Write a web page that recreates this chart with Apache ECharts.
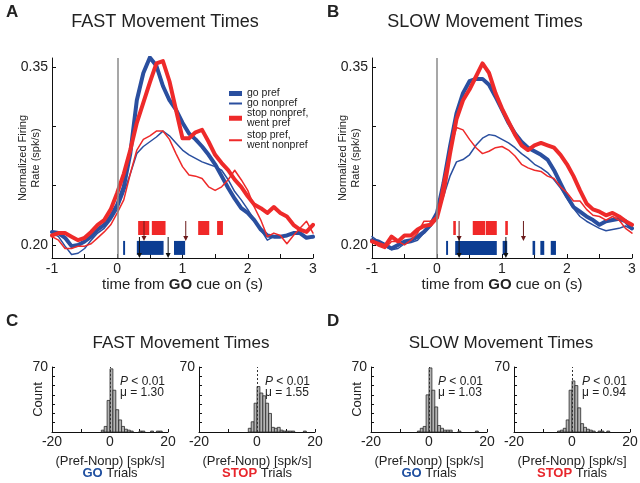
<!DOCTYPE html>
<html><head><meta charset="utf-8">
<script src="https://cdn.jsdelivr.net/npm/echarts@6/dist/echarts.min.js"></script>
<style>html,body{margin:0;padding:0;background:#fff}#c{width:640px;height:483px}</style>
</head><body><div id="c"></div>
<script>
// ---------- DATA ----------
const timeGrid = [-1,-0.9,-0.8,-0.7,-0.6,-0.5,-0.4,-0.3,-0.2,-0.1,0,0.1,0.2,0.3,0.4,0.5,0.6,0.7,0.8,0.9,1,1.1,1.2,1.3,1.4,1.5,1.6,1.7,1.8,1.9,2,2.1,2.2,2.3,2.4,2.5,2.6,2.7,2.8,2.9,3];

const fastGoPref = [0.211,0.210,0.206,0.199,0.200,0.203,0.207,0.213,0.217,0.224, 0.234,0.249,0.277,0.322,0.345,0.358,0.351,0.334,0.322,0.314, 0.303,0.294,0.289,0.283,0.276,0.268,0.258,0.248,0.239,0.231, 0.227,0.221,0.213,0.208,0.207,0.207,0.208,0.210,0.210,0.206, 0.207];
const fastGoNonpref = [0.210,0.207,0.199,0.192,0.193,0.197,0.204,0.210,0.214,0.221, 0.230,0.244,0.260,0.277,0.283,0.287,0.291,0.296,0.292,0.286, 0.280,0.276,0.273,0.270,0.268,0.266,0.263,0.255,0.245,0.238, 0.230,0.221,0.213,0.204,0.207,0.207,0.208,0.210,0.210,0.207, 0.206];
const fastStopNonpref = [0.208,0.210,0.210,0.207,0.204,0.206,0.211,0.217,0.221,0.230, 0.244,0.260,0.280,0.303,0.320,0.337,0.353,0.355,0.338,0.314, 0.290,0.290,0.295,0.297,0.287,0.276,0.269,0.263,0.255,0.249, 0.241,0.234,0.231,0.227,0.232,0.227,0.224,0.217,0.213,0.211, 0.217];
const fastStopPref = [0.207,0.204,0.197,0.197,0.199,0.199,0.201,0.206,0.211,0.217, 0.227,0.238,0.260,0.280,0.289,0.292,0.296,0.296,0.289,0.277, 0.266,0.259,0.258,0.256,0.249,0.246,0.249,0.255,0.263,0.255, 0.246,0.232,0.221,0.207,0.210,0.208,0.201,0.208,0.214,0.220, 0.210];

const slowGoPref = [0.204,0.203,0.200,0.197,0.200,0.203,0.204,0.207,0.211,0.217, 0.227,0.252,0.283,0.311,0.328,0.338,0.340,0.340,0.335,0.325, 0.314,0.303,0.294,0.287,0.282,0.279,0.276,0.272,0.263,0.252, 0.241,0.232,0.228,0.224,0.221,0.217,0.220,0.221,0.222,0.220, 0.214];
const slowGoNonpref = [0.207,0.203,0.199,0.196,0.197,0.201,0.202,0.204,0.210,0.216, 0.225,0.241,0.258,0.270,0.272,0.276,0.284,0.290,0.293,0.292, 0.289,0.286,0.282,0.277,0.273,0.268,0.265,0.261,0.255,0.248, 0.239,0.231,0.224,0.220,0.217,0.214,0.212,0.213,0.214,0.216, 0.213];
const slowStopNonpref = [0.203,0.201,0.199,0.207,0.203,0.208,0.208,0.213,0.216,0.217, 0.223,0.244,0.277,0.306,0.322,0.331,0.342,0.353,0.345,0.328, 0.315,0.304,0.293,0.284,0.280,0.284,0.286,0.284,0.282,0.276, 0.268,0.258,0.246,0.235,0.230,0.228,0.225,0.227,0.224,0.220, 0.217];
const slowStopPref = [0.203,0.199,0.197,0.203,0.203,0.200,0.204,0.210,0.220,0.220, 0.224,0.255,0.280,0.299,0.297,0.289,0.282,0.277,0.279,0.282, 0.283,0.280,0.275,0.268,0.265,0.263,0.262,0.258,0.256,0.249, 0.244,0.237,0.237,0.230,0.225,0.224,0.221,0.224,0.221,0.214, 0.210];

// significance intervals [start, end] (s)
const fastStopSig = [[0.32,0.49],[0.53,0.74],[1.24,1.41],[1.53,1.62]];
const fastGoSig = [[0.09,0.12],[0.30,0.71],[0.87,1.04]];
const fastStopArrows = [0.41, 1.05];
const fastGoArrows = [0.34, 0.78];
const slowStopSig = [[0.25,0.29],[0.55,0.74],[0.75,0.92],[1.05,1.09]];
const slowGoSig = [[0.14,0.17],[0.28,0.92],[1.01,1.08],[1.47,1.51],[1.59,1.65],[1.75,1.83]];
const slowStopArrows = [0.34, 1.33];
const slowGoArrows = [0.34, 1.06];

const yTicks = [0.20,0.25,0.30,0.35];
const yLabels = [0.20,0.35];

// histograms
const binCenters = [-4.5,-3.5,-2.5,-1.5,-0.5,0.5,1.5,2.5,3.5,4.5,5.5,6.5,7.5,8.5,9.5,10.5,11.5,12.5,13.5,14.5,15.5,16.5,17.5,18.5];
const fastGoCounts   = [0,0,2,6,34,68,45,24,13,6,3,2,1,0,0,1,1,0,0,1,0,1,1,0];
const fastStopCounts = [0,0,4,11,31,49,42,39,31,20,5,4,5,2,1,1,1,1,0,0,0,1,0,0];
const slowGoCounts   = [0,1,4,6,40,69,45,27,7,4,2,2,2,0,0,1,0,0,0,0,0,1,0,0];
const slowStopCounts = [1,2,4,13,45,55,50,26,9,5,3,2,1,0,1,1,0,1,0,0,0,0,0,0];
const histMeans = ['1.30','1.55','1.03','0.94'];
const histP = '0.01';

// ---------- STYLE ----------
const FONT = '"Liberation Sans", Arial, sans-serif';
const TXT = '#222';
const BLUE = '#2a4f9f';
const RED = '#ee2a2a';
const SIG_BLUE = '#0c3d92';
const SIG_RED = '#f02828';
const NAMES = ['go pref','go nonpref','stop nonpref,\nwent pref','stop pref,\nwent nonpref'];

const chart = echarts.init(document.getElementById('c'), null, {width:640, height:483});

const gridBase = {outerBoundsMode:'none', containLabel:false};
const grids = [
  {left:52, top:58, width:261, height:200},
  {left:372, top:58, width:260, height:200},
  {left:52, top:367, width:116, height:65},
  {left:199, top:367, width:116, height:65},
  {left:371, top:367, width:116, height:65},
  {left:514, top:367, width:116, height:65}
].map(g=>Object.assign({}, gridBase, g));

const axisLine = {show:true, onZero:false, lineStyle:{color:'#111', width:1}};
function mainX(i){
  return {gridIndex:i, type:'value', min:-1, max:3, interval:0.5,
    axisLine, axisTick:{show:true, inside:true, length:4, lineStyle:{color:'#111'}},
    axisLabel:{formatter:v=>Number.isInteger(v)?String(v):'', fontSize:14, color:TXT, fontFamily:FONT, margin:4},
    splitLine:{show:false},
    name:'{a|time from }{b|GO}{a| cue on (s)}', nameLocation:'middle', nameGap:19, nameMoveOverlap:false,
    nameTextStyle:{rich:{a:{fontSize:15, color:TXT, fontFamily:FONT}, b:{fontSize:15, fontWeight:'bold', color:TXT, fontFamily:FONT}}}
  };
}
function mainY(i){
  return {gridIndex:i, type:'value', min:0.189, max:0.3576,
    axisLine, axisTick:{show:true, inside:true, length:4, customValues:yTicks, lineStyle:{color:'#111'}},
    axisLabel:{customValues:yLabels, formatter:v=>v.toFixed(2), fontSize:14, color:TXT, fontFamily:FONT, margin:4},
    splitLine:{show:false},
    name:'Normalized Firing\nRate (spk/s)', nameLocation:'middle', nameGap:10, nameRotate:90, nameMoveOverlap:false,
    nameTextStyle:{fontSize:11, color:TXT, fontFamily:FONT, lineHeight:13}
  };
}
function histX(i, label, col){
  return {gridIndex:i, type:'value', min:-20, max:20, interval:10,
    axisLine, axisTick:{show:true, inside:true, length:3, lineStyle:{color:'#111'}},
    axisLabel:{formatter:v=>(v%20===0)?String(v):'', fontSize:14, color:TXT, fontFamily:FONT, margin:3},
    splitLine:{show:false},
    name:'{a|(Pref-Nonp) [spk/s]}\n{g|'+label+'}{a| Trials}', nameLocation:'middle', nameGap:23, nameMoveOverlap:false,
    nameTextStyle:{rich:{a:{fontSize:13, color:TXT, fontFamily:FONT, lineHeight:12}, g:{fontSize:13, fontWeight:'bold', color:col, fontFamily:FONT, lineHeight:12}}}
  };
}
function histY(i, showName){
  return {gridIndex:i, type:'value', min:0, max:70, interval:10,
    axisLine, axisTick:{show:true, inside:true, length:3, lineStyle:{color:'#111'}},
    axisLabel:{formatter:v=>v===70?'70':'', fontSize:14, color:TXT, fontFamily:FONT, margin:4},
    splitLine:{show:false},
    name: showName?'Count':'', nameLocation:'middle', nameGap:7, nameRotate:90, nameMoveOverlap:false,
    nameTextStyle:{fontSize:13, color:TXT, fontFamily:FONT}
  };
}

function lineSeries(name, arr, axis, color, width, extra){
  return Object.assign({type:'line', name, xAxisIndex:axis, yAxisIndex:axis, showSymbol:false, symbol:'none',
    data: timeGrid.map((t,k)=>[t, arr[k]]), lineStyle:{color, width, join:'round', cap:'round'}, itemStyle:{color},
    silent:true, animation:false, z:3}, extra||{});
}
// rows of significance bars, in value space
const RED_ROW = [0.2084, 0.2202];
const BLUE_ROW = [0.1916, 0.2034];
function sigSeries(intervals, row, color, axis){
  return {type:'custom', xAxisIndex:axis, yAxisIndex:axis, data:intervals, encode:{x:[0,1]}, silent:true, animation:false, z:4,
    renderItem:(p, api)=>{
      const a = api.coord([api.value(0), row[1]]);
      const b = api.coord([api.value(1), row[0]]);
      return {type:'rect', shape:{x:a[0], y:a[1], width:b[0]-a[0], height:b[1]-a[1]}, style:{fill:color}};
    }};
}
function arrowSeries(times, yTop, yTip, color, axis){
  return {type:'custom', xAxisIndex:axis, yAxisIndex:axis, data:times.map(t=>[t]), encode:{x:0}, silent:true, animation:false, z:5,
    renderItem:(p, api)=>{
      const a = api.coord([api.value(0), yTop]);
      const b = api.coord([api.value(0), yTip]);
      return {type:'group', children:[
        {type:'line', shape:{x1:a[0], y1:a[1], x2:b[0], y2:b[1]-3}, style:{stroke:color, lineWidth:1}},
        {type:'polygon', shape:{points:[[b[0]-2.5,b[1]-5],[b[0]+2.5,b[1]-5],[b[0],b[1]]]}, style:{fill:color}}
      ]};
    }};
}
function histSeries(counts, axis){
  return {type:'custom', xAxisIndex:axis, yAxisIndex:axis, data:binCenters.map((c,k)=>[c, counts[k]]), encode:{x:0, y:1}, silent:true, animation:false, z:3,
    renderItem:(p, api)=>{
      const n = api.value(1); if(!n) return null;
      const c = api.value(0);
      const a = api.coord([c-0.5, n]);
      const b = api.coord([c+0.5, 0]);
      return {type:'rect', shape:{x:a[0], y:a[1], width:b[0]-a[0], height:b[1]-a[1]}, style:{fill:'#b4b4b4', stroke:'#2a2a2a', lineWidth:0.8}};
    }};
}
function zeroDash(axis){
  return {type:'line', xAxisIndex:axis, yAxisIndex:axis, showSymbol:false, symbol:'none', silent:true, animation:false, z:1,
    data:[], markLine:{silent:true, symbol:'none', label:{show:false}, animation:false,
      lineStyle:{color:'#333', width:1, type:[2,2]}, data:[{xAxis:0}]}};
}
const zeroMark = {silent:true, symbol:'none', label:{show:false}, animation:false,
  lineStyle:{color:'#8a8a8a', width:1.5, type:'solid'}, data:[{xAxis:0}]};

const series = [];
[[0,[fastGoPref,fastGoNonpref,fastStopNonpref,fastStopPref]],[1,[slowGoPref,slowGoNonpref,slowStopNonpref,slowStopPref]]].forEach(([ax, arrs])=>{
  series.push(lineSeries(NAMES[0], arrs[0], ax, BLUE, 4, {markLine:zeroMark}));
  series.push(lineSeries(NAMES[1], arrs[1], ax, BLUE, 1.5));
  series.push(lineSeries(NAMES[2], arrs[2], ax, RED, 4));
  series.push(lineSeries(NAMES[3], arrs[3], ax, RED, 1.5));
});
series.push(sigSeries(fastStopSig, RED_ROW, SIG_RED, 0));
series.push(sigSeries(fastGoSig, BLUE_ROW, SIG_BLUE, 0));
series.push(sigSeries(slowStopSig, RED_ROW, SIG_RED, 1));
series.push(sigSeries(slowGoSig, BLUE_ROW, SIG_BLUE, 1));
series.push(arrowSeries(fastStopArrows, 0.2202, 0.2034, '#6b1a1a', 0));
series.push(arrowSeries(fastGoArrows, 0.2067, 0.189, '#111', 0));
series.push(arrowSeries(slowStopArrows, 0.2202, 0.2034, '#6b1a1a', 1));
series.push(arrowSeries(slowGoArrows, 0.2067, 0.189, '#111', 1));
[fastGoCounts, fastStopCounts, slowGoCounts, slowStopCounts].forEach((c,k)=>{
  series.push(zeroDash(k+2));
  series.push(histSeries(c, k+2));
});

function legendItem(k, top, h, color){
  return {data:[{name:NAMES[k], icon:'rect', itemStyle:{color}}], left:229, top, orient:'vertical',
    itemWidth:13, itemHeight:h, itemGap:0, padding:0, selectedMode:false,
    textStyle:{fontSize:10.5, color:TXT, fontFamily:FONT, lineHeight:9.5}};
}

function txt(x, y, text, size, extra){
  return {type:'text', x, y, style:Object.assign({text, fontSize:size, fontFamily:FONT, fill:TXT, textVerticalAlign:'middle'}, extra||{})};
}
const graphics = [
  txt(6, 12, 'A', 17, {fontWeight:'bold'}),
  txt(327, 12, 'B', 17, {fontWeight:'bold'}),
  txt(6, 321, 'C', 17, {fontWeight:'bold'}),
  txt(327, 321, 'D', 17, {fontWeight:'bold'}),
  txt(165, 22, 'FAST Movement Times', 18, {textAlign:'center'}),
  txt(485, 22, 'SLOW Movement Times', 18, {textAlign:'center'}),
  txt(181, 343, 'FAST Movement Times', 17, {textAlign:'center'}),
  txt(501, 343, 'SLOW Movement Times', 17, {textAlign:'center'})
];
const annX = [120, 265, 438, 582];
annX.forEach((x,k)=>{
  graphics.push({type:'text', x, y:382, style:{text:'{i|P} < '+histP, fontSize:12, fontFamily:FONT, fill:TXT, textVerticalAlign:'middle',
    rich:{i:{fontStyle:'italic', fontSize:12, fontFamily:FONT, fill:TXT}}}});
  graphics.push(txt(x, 393, '\u03bc = '+histMeans[k], 12));
});

chart.setOption({
  animation:false,
  backgroundColor:'#fff',
  textStyle:{fontFamily:FONT},
  grid: grids,
  xAxis:[mainX(0), mainX(1), histX(2,'GO','#1f4fa0'), histX(3,'STOP','#e8262c'), histX(4,'GO','#1f4fa0'), histX(5,'STOP','#e8262c')],
  yAxis:[mainY(0), mainY(1), histY(2,true), histY(3,false), histY(4,true), histY(5,false)],
  legend:[legendItem(0,88,5,BLUE), legendItem(1,98,2,BLUE), legendItem(2,108,5,RED), legendItem(3,130,2,RED)],
  graphic: graphics,
  series
});
</script></body></html>
